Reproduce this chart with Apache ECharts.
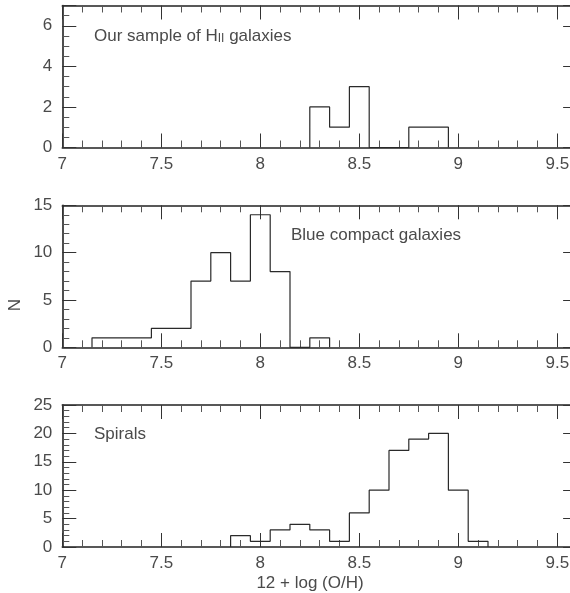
<!DOCTYPE html>
<html>
<head>
<meta charset="utf-8">
<script src="https://cdn.jsdelivr.net/npm/echarts@6/dist/echarts.min.js"></script>
<style>
html,body{margin:0;padding:0;background:#fff;}
#c{width:570px;height:593px;}
</style>
</head>
<body>
<div id="c"></div>
<script>
// ---- data (histogram bins of width 0.1 in 12 + log(O/H)) ----
const binWidth = 0.1;
const hiiCenters = [8.3, 8.4, 8.5, 8.6, 8.7, 8.8, 8.9];
const hiiCounts  = [2, 1, 3, 0, 0, 1, 1];
const bcgCenters = [7.2, 7.3, 7.4, 7.5, 7.6, 7.7, 7.8, 7.9, 8.0, 8.1, 8.2, 8.3];
const bcgCounts  = [1, 1, 1, 2, 2, 7, 10, 7, 14, 8, 0, 1];
const spiCenters = [7.9, 8.0, 8.1, 8.2, 8.3, 8.4, 8.5, 8.6, 8.7, 8.8, 8.9, 9.0, 9.1];
const spiCounts  = [2, 1, 3, 4, 3, 1, 6, 10, 17, 19, 20, 10, 1];
const panelLabels = ['Our sample of H', 'II', ' galaxies', 'Blue compact galaxies', 'Spirals'];
const xTitle = '12 + log (O/H)';
const yTitle = 'N';
const yScales = [
  {max: 7, interval: 2, minor: 4},
  {max: 15, interval: 5, minor: 5},
  {max: 25, interval: 5, minor: 5}
];
const xMin = 7, xMax = 9.6, xInterval = 0.5;

function stepData(centers, counts) {
  const h = binWidth / 2;
  const d = [[centers[0] - h, 0]];
  centers.forEach((c, i) => d.push([c - h, counts[i]]));
  d.push([centers[centers.length - 1] + h, 0]);
  return d;
}

const FONT = '"Liberation Sans", Arial, sans-serif';
const TXT = '#4a4a4a';
const AX = '#222';
const FS = 17;
const gridTops = [5.5, 205.3, 405];
const grids = gridTops.map(t => ({left: 62.3, top: t, width: 2.6 * 198, height: 142, outerBoundsMode: 'none', containLabel: false}));

const xAxes = [], yAxes = [];
grids.forEach((g, i) => {
  ['bottom', 'top'].forEach(pos => {
    xAxes.push({
      type: 'value', gridIndex: i, position: pos, min: xMin, max: xMax, interval: xInterval,
      axisLine: {show: true, onZero: false, lineStyle: {color: AX, width: 1.6}},
      axisTick: {show: true, inside: true, length: 14, lineStyle: {color: '#333', width: 1}},
      minorTick: {show: true, splitNumber: 5, length: 7, lineStyle: {color: '#555', width: 1}},
      splitLine: {show: false},
      axisLabel: pos === 'bottom' ? {
        show: true, margin: 8, color: TXT, fontFamily: FONT, fontSize: FS,
        showMaxLabel: false, showMinLabel: true, hideOverlap: false,
        formatter: v => (Math.abs(v * 2 - Math.round(v * 2)) < 1e-9 ? String(v) : '')
      } : {show: false}
    });
  });
  const ys = yScales[i];
  ['left', 'right'].forEach(pos => {
    yAxes.push({
      type: 'value', gridIndex: i, position: pos, min: 0, max: ys.max, interval: ys.interval,
      axisLine: {show: true, onZero: false, lineStyle: {color: AX, width: 1.6}},
      axisTick: {show: true, inside: true, length: 14, lineStyle: {color: '#333', width: 1}},
      minorTick: {show: true, splitNumber: ys.minor, length: 7, lineStyle: {color: '#555', width: 1}},
      splitLine: {show: false},
      axisLabel: pos === 'left' ? {
        show: true, margin: 10, color: TXT, fontFamily: FONT, fontSize: FS,
        showMinLabel: true, hideOverlap: false,
        formatter: v => (Math.abs(v / ys.interval - Math.round(v / ys.interval)) < 1e-9 ? String(v) : '')
      } : {show: false}
    });
  });
});

const datasets = [[hiiCenters, hiiCounts], [bcgCenters, bcgCounts], [spiCenters, spiCounts]];
const series = datasets.map((d, i) => ({
  type: 'line', xAxisIndex: i * 2, yAxisIndex: i * 2, step: 'end', symbol: 'none',
  animation: false, clip: false,
  lineStyle: {color: '#2a2a2a', width: 1.2},
  data: stepData(d[0], d[1])
}));

const textStyle = {fontFamily: FONT, fontSize: FS, fill: TXT};
const option = {
  backgroundColor: '#fff',
  animation: false,
  grid: grids,
  xAxis: xAxes,
  yAxis: yAxes,
  series: series,
  graphic: [
    {type: 'text', left: 94, top: 28, style: {
      text: '{a|' + panelLabels[0] + '}{b|' + panelLabels[1] + '}{a|' + panelLabels[2] + '}',
      fill: TXT, fontFamily: FONT, fontSize: FS,
      rich: {a: {fontFamily: FONT, fontSize: FS, fill: TXT, color: TXT},
             b: {fontFamily: FONT, fontSize: 12, fill: TXT, color: TXT, verticalAlign: 'bottom'}}
    }},
    {type: 'text', left: 291, top: 227, style: Object.assign({text: panelLabels[3]}, textStyle)},
    {type: 'text', left: 94, top: 426, style: Object.assign({text: panelLabels[4]}, textStyle)},
    {type: 'text', x: 15, y: 305, rotation: Math.PI / 2,
      style: Object.assign({text: yTitle, align: 'center', verticalAlign: 'middle'}, textStyle)},
    {type: 'text', x: 310, y: 583,
      style: Object.assign({text: xTitle, align: 'center', verticalAlign: 'middle'}, textStyle)}
  ]
};
const chart = echarts.init(document.getElementById('c'), null, {renderer: 'canvas'});
chart.setOption(option);
</script>
</body>
</html>
